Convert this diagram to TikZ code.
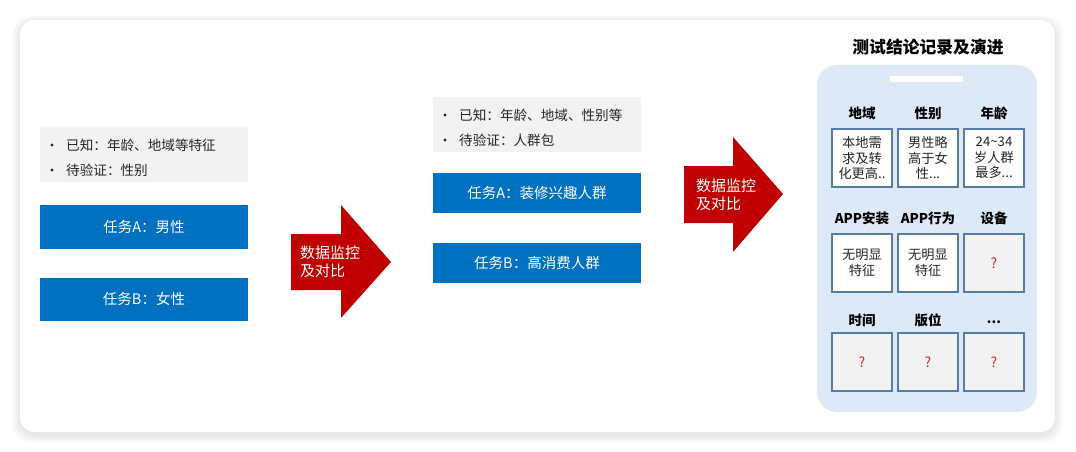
\documentclass[tikz,border=0pt]{standalone}
\usepackage{fontspec}
\setmainfont{Noto Sans CJK SC}
\usetikzlibrary{positioning}
\definecolor{taskblue}{RGB}{0,112,192}
\definecolor{alertred}{RGB}{192,0,0}
\definecolor{notegray}{RGB}{242,242,242}
\definecolor{panelblue}{RGB}{221,233,246}
\definecolor{cellframe}{RGB}{88,124,168}
\definecolor{askred}{RGB}{222,40,40}
\definecolor{inkgray}{RGB}{38,38,38}
\newcommand{\tridots}{...}
\newcommand{\duodots}{..}

\tikzset{
  notetext/.style={anchor=west, inner sep=0pt, text=inkgray, font=\fontsize{13.6}{15}\selectfont},
  notedot/.style={circle, fill=inkgray, inner sep=0pt, minimum size=3.2pt},
  taskbox/.style={fill=taskblue, text=white, minimum width=208pt, inner sep=0pt, font=\fontsize{14.5}{16}\selectfont},
  arrowtext/.style={anchor=west, align=left, inner sep=0pt, text=white, font=\fontsize{15}{18}\selectfont},
  cellbox/.style={draw=cellframe, line width=1.4pt, minimum width=60pt, minimum height=58pt, inner sep=0pt, align=center, text=inkgray, font=\fontsize{13.2}{15.5}\selectfont},
  cellhead/.style={inner sep=0pt, text=black, font=\fontsize{13.5}{15}\selectfont\bfseries},
}

\begin{document}
\begin{tikzpicture}[x=1pt, y=-1pt]
  \useasboundingbox (0,0) rectangle (1076,452);
  \fill[white] (0,0) rectangle (1076,452);

  % card with soft shadow
  \foreach \s in {1,...,8}
    \fill[black, opacity=0.011, rounded corners=18pt] (20-\s,20-\s+3) rectangle (1055+\s,432+\s+3);
  \fill[white, rounded corners=15pt] (20,20) rectangle (1055,432);

  % left group
  \fill[notegray] (40,127) rectangle (248,182);
  \node[notedot] (kb1) at (52,145) {};
  \node[notetext] (kt1) at (66,145) {已知：年龄、地域等特征};
  \node[notedot] (kb2) at (52,170) {};
  \node[notetext] (kt2) at (66,170) {待验证：性别};
  \node[taskbox, minimum height=44pt] (ta1) at (144,227) {任务A：男性};
  \node[taskbox, minimum height=43pt] (tb1) at (144,299) {任务B：女性};

  % first arrow
  \fill[alertred] (291,234) -- (341,234) -- (341,205) -- (391,262) -- (341,318) -- (341,290) -- (291,290) -- cycle;
  \node[arrowtext] (ar1) at (300,261.5) {数据监控\\及对比};

  % middle group
  \fill[notegray] (433,97) rectangle (641,152);
  \node[notedot] (kb3) at (445,115) {};
  \node[notetext] (kt3) at (459,115) {已知：年龄、地域、性别等};
  \node[notedot] (kb4) at (445,140) {};
  \node[notetext] (kt4) at (459,140) {待验证：人群包};
  \node[taskbox, minimum height=40pt] (ta2) at (537,193) {任务A：装修兴趣人群};
  \node[taskbox, minimum height=40pt] (tb2) at (537,263) {任务B：高消费人群};

  % second arrow
  \fill[alertred] (684,166) -- (733,166) -- (733,137) -- (783,194) -- (733,252) -- (733,223) -- (684,223) -- cycle;
  \node[arrowtext] (ar2) at (696,194.5) {数据监控\\及对比};

  % result panel
  \node[inner sep=0pt, font=\fontsize{16.8}{18}\selectfont\bfseries] (title) at (928,47) {测试结论记录及演进};
  \fill[panelblue, rounded corners=20pt] (817,65) rectangle (1037,412);
  \fill[white] (890,76) rectangle (963,82);

  \foreach \name/\cx/\cy/\hy/\head/\body in {
      c11/862/158/113/地域/{本地需\\求及转\\化更高\duodots},
      c12/928/158/113/性别/{男性略\\高于女\\性\tridots},
      c13/994/158/113/年龄/{24\textasciitilde34\\岁人群\\最多\tridots},
      c21/862/263/218/APP安装/{无明显\\特征},
      c22/928/263/218/APP行为/{无明显\\特征}}
  {
    \node[cellbox, fill=white] (\name) at (\cx,\cy) {\body};
    \node[cellhead] at (\cx,\hy) {\head};
  }
  \foreach \name/\cx/\cy/\hy/\head in {
      c23/994/263/218/设备,
      c31/862/362/320/时间,
      c32/928/362/320/版位,
      c33/994/362/322/\tridots}
  {
    \node[cellbox, fill=notegray, text=askred, font=\fontsize{14}{16}\selectfont] (\name) at (\cx,\cy) {?};
    \node[cellhead] at (\cx,\hy) {\head};
  }
\end{tikzpicture}
\end{document}
